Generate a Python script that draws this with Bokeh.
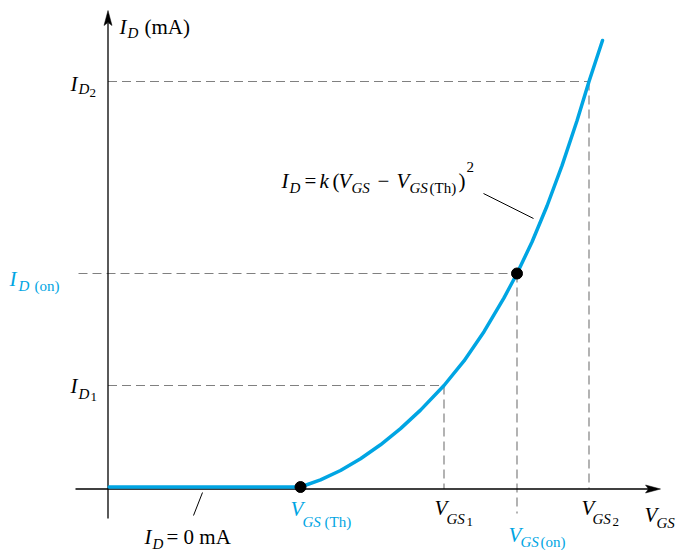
from bokeh.plotting import figure
from bokeh.models import Range1d
from bokeh.core.properties import value
from bokeh.embed import file_html
from bokeh.resources import INLINE

# ---------------- data (schematic units: 1 unit = 10 px) ----------------
vgs_th = 19.25
vgs_1 = 33.6
vgs_on = 40.9
vgs_2 = 48.1
id_1 = 10.35
id_on = 21.55
id_2 = 40.75
id_off = 0.2          # the I_D = 0 segment (drawn just above the axis)

off_v = [0.12, 19.25]
off_i = [0.2, 0.2]

curve_v = [19.25, 21.25, 23.25, 25.25, 27.25, 29.25, 31.25, 33.6, 35.6,
           37.6, 39.6, 40.9, 42.4, 43.9, 45.4, 46.9, 48.1, 49.45]
curve_i = [0.2, 0.91, 1.85, 3.02, 4.42, 6.04, 7.89, 10.35, 12.81,
           15.73, 19.11, 21.55, 24.70, 28.30, 32.34, 36.83, 40.75, 44.85]

# axes extents
h_axis_v = [-3.25, 54.4]
v_axis_i = [-2.95, 46.6]

BLUE = "#00A5E3"
GRAY = "#808080"
FONT = value("Liberation Serif")

W, H = 678, 550
M = 21   # main font size
S = 15   # subscript size
SS = 13  # sub-subscript size


def X(px):
    return (px - 107.5) / 10.0


def Y(py):
    return (488.5 - py) / 10.0


p = figure(width=W, height=H, output_backend="svg", toolbar_location=None,
           x_range=Range1d(X(0), X(W)), y_range=Range1d(Y(H), Y(0)),
           x_axis_type=None, y_axis_type=None, min_border=0,
           outline_line_color=None, background_fill_color="white",
           border_fill_color="white")
p.grid.visible = False

dash = "9 5"
dkw = dict(line_color=GRAY, line_width=1.2, line_dash=dash)
# horizontal dashed guides
p.line([0, vgs_2], [id_2, id_2], **dkw)
p.line([X(78), vgs_on], [id_on, id_on], **dkw)
p.line([0, vgs_1], [id_1, id_1], **dkw)
# vertical dashed guides
p.line([vgs_1, vgs_1], [id_1, 0], **dkw)
p.line([vgs_on, vgs_on], [id_on, Y(513)], **dkw)
p.line([vgs_2, vgs_2], [id_2, 0], **dkw)

# axes
p.line(h_axis_v, [0, 0], line_color="black", line_width=1.3)
p.line([0, 0], v_axis_i, line_color="black", line_width=1.3)
# arrow heads
p.patch([X(660), X(645), X(648), X(645)], [0, 0.4, 0, -0.4],
        fill_color="black", line_color="black", line_width=0.5)
p.patch([0, 0.4, 0, -0.4], [Y(10), Y(25), Y(22), Y(25)],
        fill_color="black", line_color="black", line_width=0.5)

# curve
p.line(off_v, off_i, line_color=BLUE, line_width=3.5, line_cap="round")
p.line(curve_v, curve_i, line_color=BLUE, line_width=3.5,
       line_join="round", line_cap="round")

# points
p.scatter([vgs_th, vgs_on], [id_off, id_on], size=11, fill_color="black",
          line_color="black")

# pointer lines
p.line([X(483), X(533)], [Y(193), Y(218)], line_color="black", line_width=1)
p.line([X(193), X(202)], [Y(515), Y(492)], line_color="black", line_width=1)

K = "black"
segments = [
    # y-axis title
    ("I", "italic", M, 119, 26, K), ("D", "italic", S, 127, 32, K),
    ("(mA)", "normal", M, 144, 26, K),
    # I_D2
    ("I", "italic", M, 70, 83, K), ("D", "italic", S, 78, 88, K),
    ("2", "normal", SS, 89, 92, K),
    # I_D(on)
    ("I", "italic", M, 9, 278, BLUE), ("D", "italic", S, 18, 285, BLUE),
    ("(on)", "normal", S, 34, 285, BLUE),
    # I_D1
    ("I", "italic", M, 70, 385, K), ("D", "italic", S, 78, 393, K),
    ("1", "normal", SS, 90, 396, K),
    # V_GS(Th)
    ("V", "italic", M, 290, 508, BLUE), ("GS", "italic", S, 302, 521, BLUE),
    ("(Th)", "normal", S, 324, 521, BLUE),
    # V_GS1
    ("V", "italic", M, 434, 507, K), ("GS", "italic", S, 446, 518, K),
    ("1", "normal", SS, 466, 521, K),
    # V_GS(on)
    ("V", "italic", M, 508, 534, BLUE), ("GS", "italic", S, 520, 541, BLUE),
    ("(on)", "normal", S, 540, 541, BLUE),
    # V_GS2
    ("V", "italic", M, 581, 507, K), ("GS", "italic", S, 592, 518, K),
    ("2", "normal", SS, 612, 521, K),
    # V_GS axis title
    ("V", "italic", M, 644, 514, K), ("GS", "italic", S, 656, 522, K),
    # equation
    ("I", "italic", M, 281, 180, K), ("D", "italic", S, 289, 187, K),
    ("=", "normal", M, 304, 180, K), ("k", "italic", M, 319, 180, K),
    ("(", "normal", M, 332, 180, K), ("V", "italic", M, 338, 180, K),
    ("GS", "italic", S, 351, 187, K), ("\u2212", "normal", M, 377, 180, K),
    ("V", "italic", M, 396, 180, K), ("GS", "italic", S, 409, 187, K),
    ("(Th)", "normal", S, 429, 187, K), (")", "normal", M, 458, 180, K),
    ("2", "normal", S, 466, 166, K),
    # I_D = 0 mA
    ("I", "italic", M, 144, 536, K), ("D", "italic", S, 152, 543, K),
    ("= 0 mA", "normal", M, 166, 536, K),
]

for t, style, size, px, py, col in segments:
    p.text(x=[X(px)], y=[Y(py)], text=[t], text_font=FONT,
           text_font_style=style, text_font_size=f"{size}px",
           text_color=col, text_baseline="alphabetic", text_align="left")

open("out.html", "w").write(file_html(p, INLINE))
